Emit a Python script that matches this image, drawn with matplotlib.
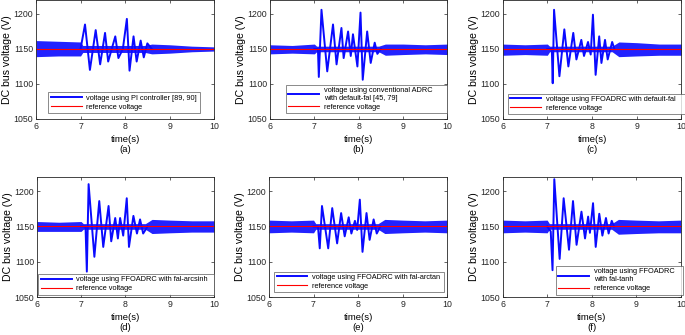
import matplotlib
matplotlib.use("Agg")
import matplotlib.pyplot as plt

plt.rcParams['font.family'] = ['Liberation Sans', 'DejaVu Sans']

v_ref = 1150

# ripple envelope (lower / upper)
band_t = [6.0, 6.5, 7.0, 7.05, 8.45, 8.6, 9.0, 9.5, 10.0]
band_lo = {
    'a': [1139, 1140, 1140, 1145, 1145, 1143, 1144, 1146, 1147],
    'b': [1143, 1144, 1143, 1146, 1146, 1141, 1142, 1143, 1142],
    'c': [1141, 1142, 1141, 1146, 1146, 1139, 1140, 1141, 1141],
    'd': [1143, 1143, 1143, 1146, 1146, 1140, 1141, 1142, 1142],
    'e': [1141, 1142, 1141, 1146, 1146, 1140, 1141, 1142, 1141],
    'f': [1141, 1142, 1141, 1146, 1146, 1139, 1140, 1141, 1141],
}
band_hi = {
    'a': [1162, 1161, 1160, 1155, 1155, 1157, 1156, 1154, 1153],
    'b': [1156, 1155, 1157, 1154, 1154, 1157, 1157, 1156, 1157],
    'c': [1157, 1156, 1157, 1154, 1154, 1160, 1159, 1157, 1157],
    'd': [1157, 1156, 1157, 1154, 1154, 1160, 1159, 1158, 1158],
    'e': [1159, 1158, 1159, 1154, 1154, 1160, 1159, 1158, 1159],
    'f': [1159, 1158, 1159, 1154, 1154, 1160, 1159, 1158, 1159],
}

# transient extrema (time, voltage)
tr_t = {
    'a': [7.0, 7.10, 7.21, 7.34, 7.44, 7.55, 7.62, 7.78, 7.85, 7.95, 8.04, 8.10, 8.19, 8.26, 8.35, 8.42, 8.50, 8.60],
    'b': [7.0, 7.08, 7.10, 7.16, 7.29, 7.42, 7.50, 7.61, 7.66, 7.76, 7.82, 7.87, 7.97, 8.04, 8.09, 8.19, 8.27, 8.36, 8.42, 8.50],
    'c': [7.0, 7.10, 7.12, 7.15, 7.27, 7.38, 7.47, 7.58, 7.65, 7.76, 7.82, 7.91, 7.97, 8.02, 8.08, 8.16, 8.21, 8.29, 8.35, 8.45, 8.50],
    'd': [7.0, 7.10, 7.13, 7.17, 7.30, 7.41, 7.50, 7.62, 7.68, 7.77, 7.83, 7.88, 7.95, 8.03, 8.08, 8.18, 8.26, 8.33, 8.40, 8.50],
    'e': [7.0, 7.10, 7.14, 7.19, 7.33, 7.42, 7.53, 7.62, 7.70, 7.79, 7.85, 7.93, 7.98, 8.04, 8.10, 8.19, 8.26, 8.35, 8.42, 8.50],
    'f': [7.0, 7.08, 7.12, 7.16, 7.28, 7.37, 7.49, 7.58, 7.66, 7.77, 7.85, 7.92, 7.96, 8.03, 8.09, 8.17, 8.24, 8.32, 8.38, 8.45, 8.50],
}
tr_v = {
    'a': [1150, 1185, 1120, 1177, 1128, 1173, 1132, 1168, 1137, 1150, 1193, 1119, 1168, 1132, 1162, 1138, 1158, 1150],
    'b': [1150, 1150, 1110, 1206, 1118, 1185, 1128, 1180, 1137, 1175, 1140, 1171, 1125, 1202, 1106, 1175, 1130, 1159, 1143, 1150],
    'c': [1150, 1150, 1101, 1206, 1111, 1178, 1125, 1173, 1135, 1163, 1140, 1160, 1142, 1199, 1113, 1168, 1130, 1163, 1135, 1160, 1150],
    'd': [1150, 1150, 1086, 1210, 1107, 1186, 1121, 1179, 1129, 1162, 1133, 1162, 1137, 1190, 1121, 1165, 1140, 1160, 1140, 1150],
    'e': [1150, 1150, 1119, 1179, 1119, 1176, 1126, 1169, 1136, 1163, 1140, 1158, 1145, 1188, 1114, 1169, 1131, 1160, 1140, 1150],
    'f': [1150, 1143, 1088, 1217, 1104, 1190, 1117, 1186, 1124, 1171, 1133, 1164, 1141, 1183, 1121, 1168, 1137, 1162, 1140, 1158, 1150],
}

labels = {
    'a': 'voltage using PI controller [89, 90]',
    'b': 'voltage using conventional ADRC\nwith default-fal [45, 79]',
    'c': 'voltage using FFOADRC with default-fal',
    'd': 'voltage using FFOADRC with fal-arcsinh',
    'e': 'voltage using FFOADRC with fal-arctan',
    'f': 'voltage using FFOADRC\nwith fal-tanh',
}

# axes rectangles in figure fraction
pos = {
    'a': [0.0526, 0.645, 0.260, 0.355],
    'b': [0.3942, 0.645, 0.259, 0.355],
    'c': [0.7338, 0.645, 0.261, 0.355],
    'd': [0.0536, 0.1134, 0.259, 0.358],
    'e': [0.3927, 0.1134, 0.260, 0.358],
    'f': [0.7338, 0.1134, 0.260, 0.358],
}
# legend boxes (x0, y0, w, h) in axes fraction
leg_box = {
    'a': (0.07, 0.05, 0.85, 0.2),
    'b': (0.09, 0.05, 0.91, 0.3),
    'c': (0.03, 0.04, 1.0, 0.2),
    'd': (0.01, 0.02, 0.99, 0.2),
    'e': (0.03, 0.04, 0.95, 0.2),
    'f': (0.30, 0.02, 0.71, 0.3),
}

blue = '#0a0aff'
red = '#ff0000'

fig = plt.figure(figsize=(6.85, 3.35), dpi=100)

for k in 'abcdef':
    ax = fig.add_axes(pos[k])
    ax.fill_between(band_t, band_lo[k], band_hi[k], color=blue, alpha=0.9, lw=0)
    ln_b, = ax.plot(tr_t[k], tr_v[k], color=blue, lw=1.4)
    ln_r = ax.axhline(v_ref, color=red, lw=0.8)
    ax.set_xlim(6, 10)
    ax.set_ylim(1050, 1220)
    ax.set_xticks([6, 7, 8, 9, 10])
    ax.set_yticks([1050, 1100, 1150, 1200])
    ax.tick_params(direction='in', length=2.5, width=0.5, labelsize=6.3,
                   top=True, right=True, pad=2, colors='#262626')
    for s in ax.spines.values():
        s.set_linewidth(0.6)
        s.set_color('#262626')
    ax.set_xlabel('time(s)\n(' + k + ')', fontsize=6.8, labelpad=3, linespacing=1.2)
    ax.set_ylabel('DC bus voltage (V)', fontsize=7.6)
    ax.yaxis.set_label_coords(-0.135, 0.5)
    leg = ax.legend([ln_b, ln_r], [labels[k], 'reference voltage'],
                    loc='lower left', bbox_to_anchor=leg_box[k], mode='expand',
                    fontsize=5.3, handlelength=4.2, frameon=True, fancybox=False,
                    borderpad=0.3, labelspacing=0.25, handletextpad=0.6,
                    borderaxespad=0)
    leg.get_frame().set_edgecolor('#555555')
    leg.get_frame().set_linewidth(0.6)

fig.savefig('out.png', dpi=100)
